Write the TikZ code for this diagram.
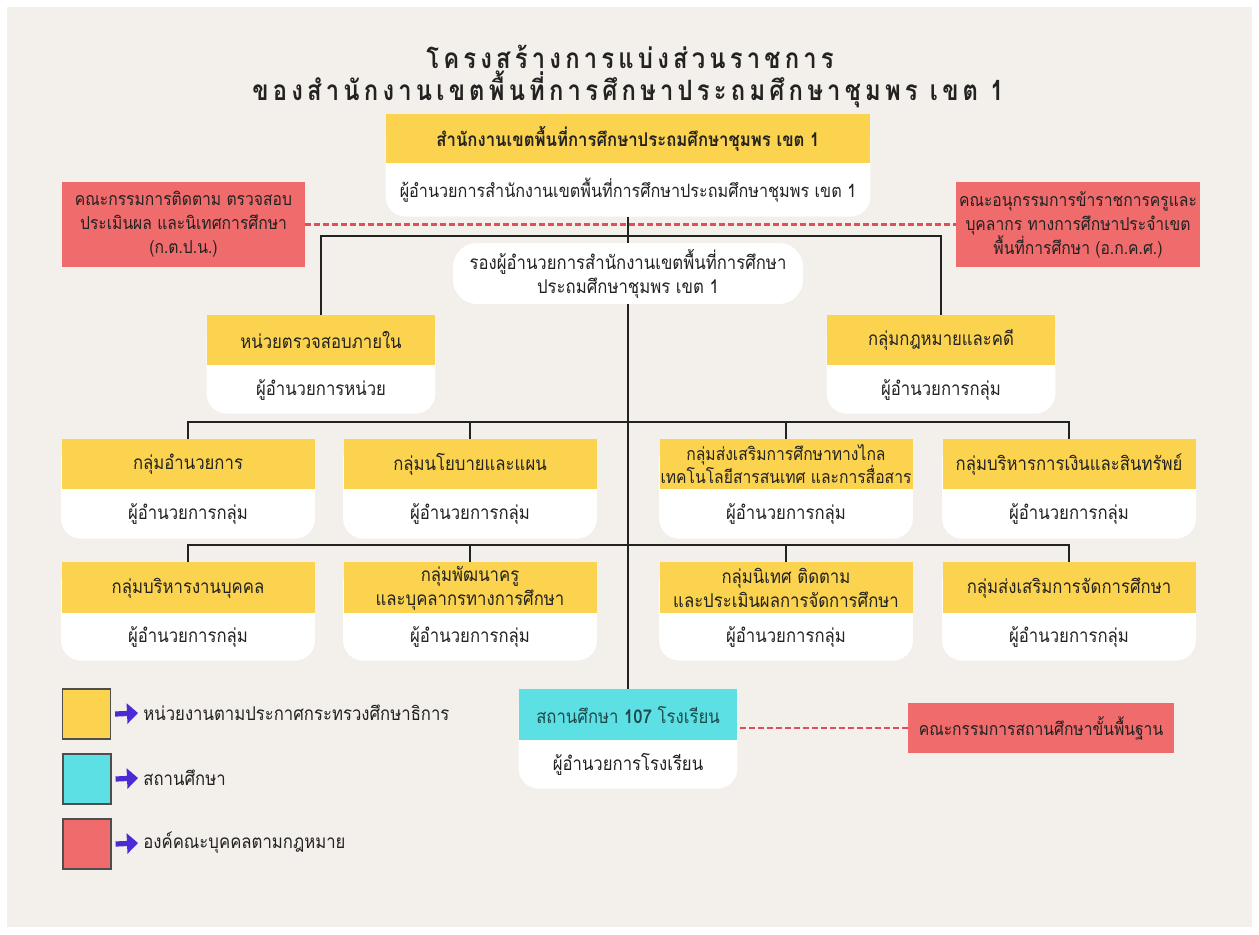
\documentclass[tikz,border=0pt]{standalone}
\usepackage{fontspec}
\setmainfont{Loma}[Script=Thai,FakeStretch=0.88]
\newfontfamily\titlefont{Loma}[Script=Thai,FakeStretch=0.85,LetterSpace=15]
\usetikzlibrary{arrows.meta,backgrounds}
\definecolor{cream}{HTML}{F3EFEA}
\definecolor{yel}{HTML}{FBD34F}
\definecolor{cyn}{HTML}{5DE0E4}
\definecolor{redb}{HTML}{EF6B6C}
\definecolor{dashred}{HTML}{DE4F57}
\definecolor{purp}{HTML}{4A2BD6}
\definecolor{ink}{HTML}{222222}
\definecolor{teal}{HTML}{1E4A4C}
\begin{document}
\begin{tikzpicture}[x=0.5pt,y=-0.5pt,
  bw/.style={minimum width=#1*0.5pt},
  bh/.style={minimum height=#1*0.5pt},
  txt/.style={font=\fontsize{9.5}{12}\selectfont, text=ink},
  hdr/.style={txt, fill=yel, inner sep=0pt, align=center, anchor=north},
  bdy/.style={txt, inner sep=0pt, align=center, anchor=north},
  redbox/.style={txt, font=\fontsize{8.9}{12}\selectfont, fill=redb, inner sep=0pt, align=center},
  depbox/.style={txt, fill=white, rounded corners=12pt, inner sep=0pt, align=center},
  conn/.style={draw=ink, line width=0.8pt},
  dashc/.style={draw=dashred, line width=1.1pt, dash pattern=on 3pt off 1.5pt},
  legsq/.style={draw=ink!80, line width=0.6pt, minimum width=24pt, minimum height=25pt, inner sep=0pt},
  legtxt/.style={txt, anchor=west, inner sep=0pt},
  legarrow/.style={draw=purp, line width=2.6pt, -{Triangle[length=5.5pt,width=10pt]}},
  ttl/.style={font=\titlefont\bfseries\fontsize{14}{16}\selectfont, text=ink},
  bodybg/.style={fill=white, rounded corners=10pt}
]
\useasboundingbox (0,0) rectangle (1259,934);
\begin{pgfonlayer}{background}
  \fill[white] (0,0) rectangle (1259,934);
  \fill[cream] (7,7) rectangle (1252,927);
\end{pgfonlayer}

% title
\node[ttl] (t1) at (630,57) {โครงสร้างการแบ่งส่วนราชการ};
\node[ttl] (t2) at (628,89) {ของสำนักงานเขตพื้นที่การศึกษาประถมศึกษาชุมพร เขต 1};

% top
\node[hdr,bw=484,bh=49,font=\bfseries\fontsize{9.5}{12}\selectfont] (top) at (628,114) {สำนักงานเขตพื้นที่การศึกษาประถมศึกษาชุมพร เขต 1};
\node[bdy,bw=484,bh=52,font=\fontsize{9.2}{12}\selectfont] (topb) at (top.south) {ผู้อำนวยการสำนักงานเขตพื้นที่การศึกษาประถมศึกษาชุมพร เขต 1};

% committees
\node[redbox,bw=243,bh=85] (kt) at (183.5,224.5) {คณะกรรมการติดตาม ตรวจสอบ\\ประเมินผล และนิเทศการศึกษา\\(ก.ต.ป.น.)};
\node[redbox,bw=244,bh=85] (ak) at (1078,224.5) {คณะอนุกรรมการข้าราชการครูและ\\บุคลากร ทางการศึกษาประจำเขต\\พื้นที่การศึกษา (อ.ก.ค.ศ.)};

% deputy
\node[depbox,bw=350,bh=61] (dep) at (628,273.5) {รองผู้อำนวยการสำนักงานเขตพื้นที่การศึกษา\\ประถมศึกษาชุมพร เขต 1};

% row A
\node[hdr,bw=228,bh=50] (ia) at (321,315) {หน่วยตรวจสอบภายใน};
\node[bdy,bw=228,bh=47] (iab) at (ia.south) {ผู้อำนวยการหน่วย};
\node[hdr,bw=228,bh=50] (la) at (941,315) {กลุ่มกฎหมายและคดี};
\node[bdy,bw=228,bh=47] (lab) at (la.south) {ผู้อำนวยการกลุ่ม};

% row 1
\node[hdr,bw=253,bh=50] (g1) at (188,439) {กลุ่มอำนวยการ};
\node[bdy,bw=253,bh=48] (g1b) at (g1.south) {ผู้อำนวยการกลุ่ม};
\node[hdr,bw=253,bh=50] (g2) at (470,439) {กลุ่มนโยบายและแผน};
\node[bdy,bw=253,bh=48] (g2b) at (g2.south) {ผู้อำนวยการกลุ่ม};
\node[hdr,bw=253,bh=50,font=\fontsize{8.9}{11.5}\selectfont] (g3) at (786,439) {กลุ่มส่งเสริมการศึกษาทางไกล\\เทคโนโลยีสารสนเทศ และการสื่อสาร};
\node[bdy,bw=253,bh=48] (g3b) at (g3.south) {ผู้อำนวยการกลุ่ม};
\node[hdr,bw=253,bh=50] (g4) at (1069,439) {กลุ่มบริหารการเงินและสินทรัพย์};
\node[bdy,bw=253,bh=48] (g4b) at (g4.south) {ผู้อำนวยการกลุ่ม};

% row 2
\node[hdr,bw=253,bh=51] (h1) at (188,562) {กลุ่มบริหารงานบุคคล};
\node[bdy,bw=253,bh=46] (h1b) at (h1.south) {ผู้อำนวยการกลุ่ม};
\node[hdr,bw=253,bh=51] (h2) at (470,562) {กลุ่มพัฒนาครู\\และบุคลากรทางการศึกษา};
\node[bdy,bw=253,bh=46] (h2b) at (h2.south) {ผู้อำนวยการกลุ่ม};
\node[hdr,bw=253,bh=51] (h3) at (786,562) {กลุ่มนิเทศ ติดตาม\\และประเมินผลการจัดการศึกษา};
\node[bdy,bw=253,bh=46] (h3b) at (h3.south) {ผู้อำนวยการกลุ่ม};
\node[hdr,bw=253,bh=51] (h4) at (1069,562) {กลุ่มส่งเสริมการจัดการศึกษา};
\node[bdy,bw=253,bh=46] (h4b) at (h4.south) {ผู้อำนวยการกลุ่ม};

% school
\node[hdr,fill=cyn,text=teal,bw=218,bh=51] (sch) at (628,689) {สถานศึกษา \textbf{107} โรงเรียน};
\node[bdy,bw=218,bh=47] (schb) at (sch.south) {ผู้อำนวยการโรงเรียน};
\node[redbox,bw=266,bh=50] (kb) at (1041,728) {คณะกรรมการสถานศึกษาขั้นพื้นฐาน};

% legend
\node[legsq,fill=yel] (ly) at (86.5,714) {};
\node[legsq,fill=cyn] (lc) at (87,779) {};
\node[legsq,fill=redb] (lr) at (87,844) {};
\node[legtxt] (lty) at (143,713) {หน่วยงานตามประกาศกระทรวงศึกษาธิการ};
\node[legtxt] (ltc) at (143,778) {สถานศึกษา};
\node[legtxt] (ltr) at (143,843) {องค์คณะบุคคลตามกฎหมาย};
\draw[legarrow] ([xshift=2pt]ly.east) -- ([xshift=-2.5pt]lty.west);
\draw[legarrow] ([xshift=2pt]lc.east) -- ([xshift=-2.5pt]ltc.west);
\draw[legarrow] ([xshift=2pt]lr.east) -- ([xshift=-2.5pt]ltr.west);

% white bodies behind
\begin{pgfonlayer}{background}
  \foreach \a/\b in {top/topb,ia/iab,la/lab,g1/g1b,g2/g2b,g3/g3b,g4/g4b,h1/h1b,h2/h2b,h3/h3b,h4/h4b,sch/schb}
    \fill[bodybg] (\a.north west) rectangle (\b.south east);
\end{pgfonlayer}

% connectors
\coordinate (jA) at (628,236);
\coordinate (j1) at (628,422);
\coordinate (j2) at (628,545);
\draw[conn] (topb.south) -- (dep.north);
\draw[conn] (dep.south) -- (sch.north);
\draw[conn] (ia.north) |- (jA) -| (la.north);
\draw[conn] (g1.north) |- (j1) -| (g4.north);
\draw[conn] (g2.north) -- (g2.north |- j1);
\draw[conn] (g3.north) -- (g3.north |- j1);
\draw[conn] (h1.north) |- (j2) -| (h4.north);
\draw[conn] (h2.north) -- (h2.north |- j2);
\draw[conn] (h3.north) -- (h3.north |- j2);
\draw[dashc] (kt.east) -- (ak.west);
\draw[dashc] (kb.west) -- (kb.west -| sch.east);
\end{tikzpicture}
\end{document}
